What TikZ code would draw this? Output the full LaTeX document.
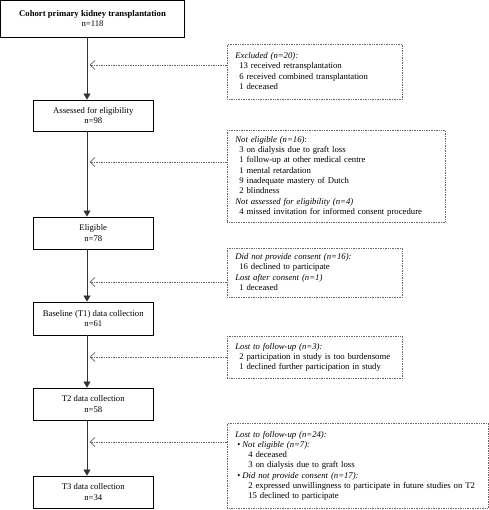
\documentclass[tikz,border=0pt]{standalone}
\usepackage{fontspec}
\setmainfont{Liberation Serif}
\usetikzlibrary{arrows.meta}
\newcommand{\ind}{\hspace*{4bp}}
\newcommand{\indd}{\hspace*{13bp}}
\newcommand{\bul}{\hspace*{2bp}\textbullet\hspace*{2bp}}
\newcommand{\notelines}[1]{\begin{tabular}{@{}l@{}}#1\end{tabular}}
\begin{document}
\begin{tikzpicture}[x=1bp,y=-1bp,
  every node/.style={font=\fontsize{8.7bp}{10.3bp}\selectfont},
  mainbox/.style={draw=black, line width=0.9bp, align=center, inner sep=0pt, minimum width=120.5bp},
  notebox/.style={draw=black!60, densely dotted, line width=0.7bp, align=left, anchor=north west, inner xsep=8bp, inner ysep=0pt},
  flow/.style={draw=black!80, line width=0.8bp, -{Triangle[length=6bp,width=7bp]}},
  side/.style={draw=black!60, densely dotted, line width=0.7bp, -{Straight Barb[length=5bp,width=9bp]}},
]
\useasboundingbox (0,0) rectangle (489,510);

% main column
\node[mainbox, minimum width=184bp, minimum height=36.5bp] (b1) at (92.5,18.75) {\textbf{Cohort primary kidney transplantation}\\n=118};
\node[mainbox, minimum height=31bp] (b2) at (93.25,115.5) {Assessed for eligibility\\n=98};
\node[mainbox, minimum height=32bp] (b3) at (93.25,233) {Eligible\\n=78};
\node[mainbox, minimum height=33bp] (b4) at (93.25,318.5) {Baseline (T1) data collection\\n=61};
\node[mainbox, minimum height=32bp] (b5) at (93.25,404) {T2 data collection\\n=58};
\node[mainbox, minimum height=32bp] (b6) at (93.25,492) {T3 data collection\\n=34};

\coordinate (spine) at (87,0);
\draw[flow] (b1.south -| spine) -- (b2.north -| spine);
\draw[flow] (b2.south -| spine) -- (b3.north -| spine);
\draw[flow] (b3.south -| spine) -- (b4.north -| spine);
\draw[flow] (b4.south -| spine) -- (b5.north -| spine);
\draw[flow] (b5.south -| spine) -- (b6.north -| spine);

% side notes
\node[notebox, text width=159bp, minimum height=55bp] (ex) at (227,44) {\notelines{%
\textit{Excluded (n=20):}\\
\ind 13 received retransplantation\\
\ind 6 received combined transplantation\\
\ind 1 deceased}};

\node[notebox, text width=202bp, minimum height=92bp] (ne) at (227,130) {\notelines{%
\textit{Not eligible (n=16)}:\\
\ind 3 on dialysis due to graft loss\\
\ind 1 follow-up at other medical centre\\
\ind 1 mental retardation\\
\ind 9 inadequate mastery of Dutch\\
\ind 2 blindness\\
\textit{Not assessed for eligibility (n=4)}\\
\ind 4 missed invitation for informed consent procedure}};

\node[notebox, text width=159bp, minimum height=49bp] (dc) at (227,248) {\notelines{%
\textit{Did not provide consent (n=16):}\\
\ind 16 declined to participate\\
\textit{Lost after consent (n=1)}\\
\ind 1 deceased}};

\node[notebox, text width=159bp, minimum height=42bp] (l3) at (227,336) {\notelines{%
\textit{Lost to follow-up (n=3):}\\
\ind 2 participation in study is too burdensome\\
\ind 1 declined further participation in study}};

\node[notebox, text width=245bp, minimum height=85bp] (l24) at (227,423) {\notelines{%
\textit{Lost to follow-up (n=24):}\\
\bul\textit{Not eligible (n=7):}\\
\indd 4 deceased\\
\indd 3 on dialysis due to graft loss\\
\bul\textit{Did not provide consent (n=17):}\\
\indd 2 expressed unwillingness to participate in future studies on T2\\
\indd 15 declined to participate}};

\coordinate (a1) at (89.5,65);
\coordinate (a2) at (89.5,162);
\coordinate (a3) at (89.5,282);
\coordinate (a4) at (89.5,357);
\coordinate (a5) at (89.5,442);
\draw[side] (ex.west |- a1) -- (a1);
\draw[side] (ne.west |- a2) -- (a2);
\draw[side] (dc.west |- a3) -- (a3);
\draw[side] (l3.west |- a4) -- (a4);
\draw[side] (l24.west |- a5) -- (a5);
\end{tikzpicture}
\end{document}
